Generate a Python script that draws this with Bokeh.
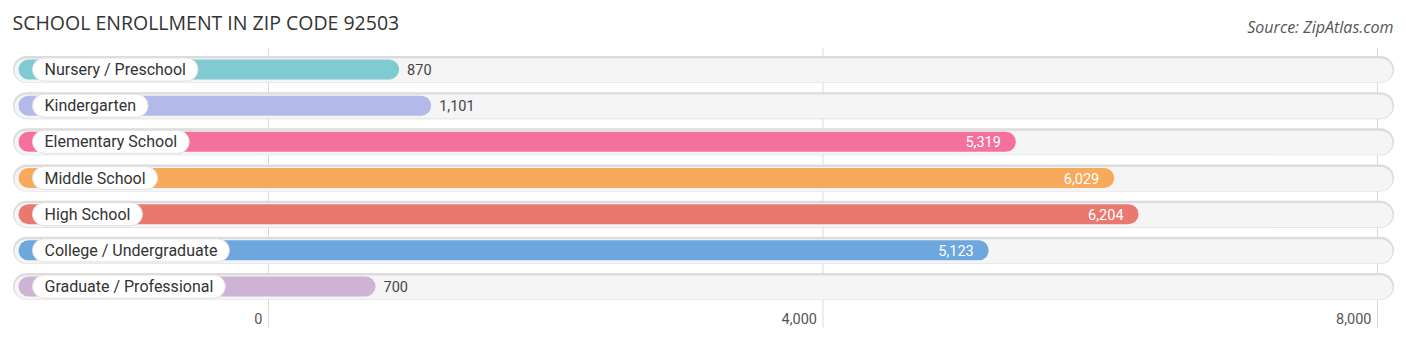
from bokeh.plotting import figure
from bokeh.models import Range1d, Label
from bokeh.core.properties import value
from bokeh.embed import file_html
from bokeh.resources import INLINE

categories = ["Nursery / Preschool", "Kindergarten", "Elementary School", "Middle School",
              "High School", "College / Undergraduate", "Graduate / Professional"]
values = [870, 1101, 5319, 6029, 6204, 5123, 700]
colors = ["#7fcbd1", "#b3b9e9", "#f4719b", "#f7aa5c", "#e9786f", "#6ea6de", "#cfb3d5"]
ticks = [0, 4000, 8000]
tick_labels = ["0", "4,000", "8,000"]
value_labels = [f"{v:,}" for v in values]

W, H = 1406, 342
PX = (1377 - 268) / 8000.0   # pixels per unit
X0 = 268                     # pixel of zero
ROW = 36.17
Y0 = 69


def xd(px):
    return (px - X0) / PX


def yd(py):
    return (py - Y0) / ROW


p = figure(width=W, height=H, x_range=Range1d(xd(0), xd(W)),
           y_range=Range1d(yd(H), yd(0)), min_border=0,
           toolbar_location=None, output_backend="svg")
p.outline_line_color = None
p.axis.visible = False
p.grid.visible = False
p.background_fill_color = "white"
p.border_fill_color = "white"

ys = list(range(len(categories)))

# gridlines
p.segment(x0=ticks, x1=ticks, y0=[yd(48)] * len(ticks), y1=[yd(327)] * len(ticks),
          line_color="#d9d9d9", line_width=1)

# tracks
p.segment(x0=[xd(26)] * len(ys), x1=[xd(1380)] * len(ys), y0=ys, y1=ys,
          line_width=27, line_color="#dcdcdc", line_cap="round")
p.segment(x0=[xd(26)] * len(ys), x1=[xd(1380)] * len(ys),
          y0=[y + 0.025 for y in ys], y1=[y + 0.025 for y in ys],
          line_width=24, line_color="#f5f5f5", line_cap="round")

# bars
p.segment(x0=[xd(28)] * len(ys), x1=values, y0=ys, y1=ys,
          line_width=20, line_color=colors, line_cap="round")

# category pills
p.text(x=[xd(32)] * len(ys), y=ys, text=categories, text_align="left",
       text_baseline="middle", text_font=value("Roboto"), text_font_size="16px",
       text_color="#333333", background_fill_color="white",
       border_line_color="#e2e2e2", border_line_width=1,
       padding=dict(left=12, right=12, top=2, bottom=2), border_radius=12)

# value labels
inside = [i for i, v in enumerate(values) if v > 2000]
outside = [i for i, v in enumerate(values) if v <= 2000]
p.text(x=[values[i] for i in inside], y=[ys[i] for i in inside],
       text=[value_labels[i] for i in inside], text_align="right", x_offset=-5,
       text_baseline="middle", text_font=value("Roboto"), text_font_size="14.5px",
       text_color="white")
p.text(x=[values[i] for i in outside], y=[ys[i] for i in outside],
       text=[value_labels[i] for i in outside], text_align="left", x_offset=18,
       text_baseline="middle", text_font=value("Roboto"), text_font_size="14.5px",
       text_color="#444444")

# tick labels
p.text(x=ticks, y=[yd(318)] * len(ticks), text=tick_labels, text_align="right",
       x_offset=-6, text_baseline="middle", text_font=value("Roboto"),
       text_font_size="14.5px", text_color="#555555")

p.add_layout(Label(x=12, y=H - 22, x_units="screen", y_units="screen",
                   text="SCHOOL ENROLLMENT IN ZIP CODE 92503", text_baseline="middle",
                   text_font="Open Sans", text_font_size="19.5px", text_color="#333333"))
p.add_layout(Label(x=1393, y=H - 26, x_units="screen", y_units="screen",
                   text="Source: ZipAtlas.com", text_align="right", text_baseline="middle",
                   text_font="Open Sans", text_font_style="italic",
                   text_font_size="16px", text_color="#555555"))

open("out.html", "w").write(file_html(p, INLINE))
